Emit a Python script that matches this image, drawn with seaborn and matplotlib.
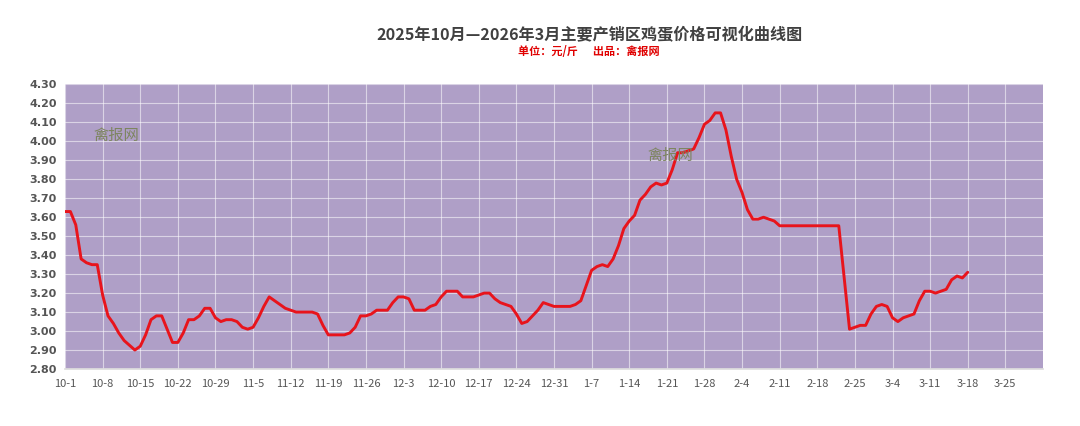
import pandas as pd
import numpy as np
import matplotlib
matplotlib.use("Agg")
import matplotlib.pyplot as plt
import seaborn as sns

# ===== DADOS =====
titulo = "2025年10月—2026年3月主要产销区鸡蛋价格可视化曲线图"
subtitulo = "单位：元/斤      出品：禽报网"
marca = "禽报网"

inicio = "2025-10-01"
fim = "2026-03-18"

# preço diário (元/斤); None = dia sem ponto legível no gráfico
precos = [
    # outubro
    3.63, 3.63, 3.56, 3.38, 3.36, 3.35, 3.35, 3.19, 3.08, 3.04,
    2.99, 2.95, None, 2.90, 2.92, 2.98, 3.06, 3.08, 3.08, 3.01,
    2.94, 2.94, 2.99, 3.06, 3.06, 3.08, 3.12, 3.12, 3.07, 3.05,
    3.06,
    # novembro
    3.06, 3.05, 3.02, 3.01, 3.02, 3.07, 3.13, 3.18, 3.16, 3.14,
    3.12, 3.11, 3.10, 3.10, 3.10, 3.10, 3.09, 3.03, 2.98, 2.98,
    2.98, 2.98, 2.99, 3.02, 3.08, 3.08, 3.09, 3.11, 3.11, 3.11,
    # dezembro
    3.15, 3.18, 3.18, 3.17, 3.11, 3.11, 3.11, 3.13, 3.14, 3.18,
    3.21, 3.21, 3.21, 3.18, 3.18, 3.18, 3.19, 3.20, 3.20, 3.17,
    3.15, 3.14, 3.13, 3.09, 3.04, 3.05, 3.08, 3.11, 3.15, 3.14,
    3.13,
    # janeiro
    3.13, 3.13, 3.13, 3.14, 3.16, 3.24, 3.32, 3.34, 3.35, 3.34,
    3.38, 3.45, 3.54, 3.58, 3.61, 3.69, 3.72, 3.76, 3.78, 3.77,
    3.78, 3.85, 3.94, 3.94, 3.95, 3.96, 4.02, 4.09, 4.11, 4.15,
    4.15,
    # fevereiro
    4.06, 3.92, 3.80, 3.73, 3.64, 3.59, 3.59, 3.60, 3.59, 3.58,
    3.555, None, None, None, None, None, None, None, None, None,
    None, 3.555, None, 3.01, 3.02, 3.03, 3.03, 3.09,
    # março
    3.13, 3.14, 3.13, 3.07, 3.05, 3.07, 3.08, 3.09, 3.16, 3.21,
    3.21, 3.20, 3.21, 3.22, 3.27, 3.29, 3.28, 3.31,
]

tick_inicio = "2025-10-01"
tick_fim = "2026-03-25"
x_lim = ("2025-10-01", "2026-04-01")
y_ticks = np.arange(2.80, 4.301, 0.10)

# ===== CONFIGURAÇÕES =====
sns.set_theme(style="white")
plt.rcParams['font.family'] = ['Noto Sans CJK SC', 'DejaVu Sans']

df = pd.DataFrame({"data": pd.date_range(inicio, fim), "preco": precos})
df = df.dropna()

fig = plt.figure(figsize=(10.8, 4.26), dpi=100)
ax = fig.add_axes([0.0602, 0.1338, 0.9055, 0.668])
ax.set_facecolor("#AF9FC7")

sns.lineplot(data=df, x="data", y="preco", color="#E8141C", linewidth=2.1, ax=ax)

# eixos
ticks = pd.date_range(tick_inicio, tick_fim, freq="7D")
ax.set_xticks(ticks)
ax.set_xticklabels([f"{d.month}-{d.day}" for d in ticks], fontsize=8, color="#555555")
ax.set_xlim(pd.Timestamp(x_lim[0]), pd.Timestamp(x_lim[1]))
ax.set_ylim(2.80, 4.30)
ax.set_yticks(y_ticks)
ax.set_yticklabels([f"{v:.2f}" for v in y_ticks], fontsize=8, color="#555555",
                   fontweight="bold", family="DejaVu Sans")
ax.set_xlabel("")
ax.set_ylabel("")

ax.grid(True, color="white", alpha=0.55, linewidth=0.8)
ax.tick_params(axis="x", length=4, color="#cccccc", pad=3)
ax.tick_params(axis="y", length=0, pad=6)
for lado in ["top", "right", "left"]:
    ax.spines[lado].set_visible(False)
ax.spines["bottom"].set_color("#dddddd")

# marca d'água
ax.text(0.029, 0.806, marca, transform=ax.transAxes, fontsize=11, color="#7D8560")
ax.text(0.596, 0.736, marca, transform=ax.transAxes, fontsize=11, color="#7D8560")

# títulos
fig.text(0.546, 0.918, titulo, ha="center", va="center", fontsize=11.6,
         fontweight="bold", color="#404040")
fig.text(0.545, 0.88, subtitulo, ha="center", va="center", fontsize=8,
         fontweight="bold", color="#E00000")

fig.savefig("out.png", dpi=100)
